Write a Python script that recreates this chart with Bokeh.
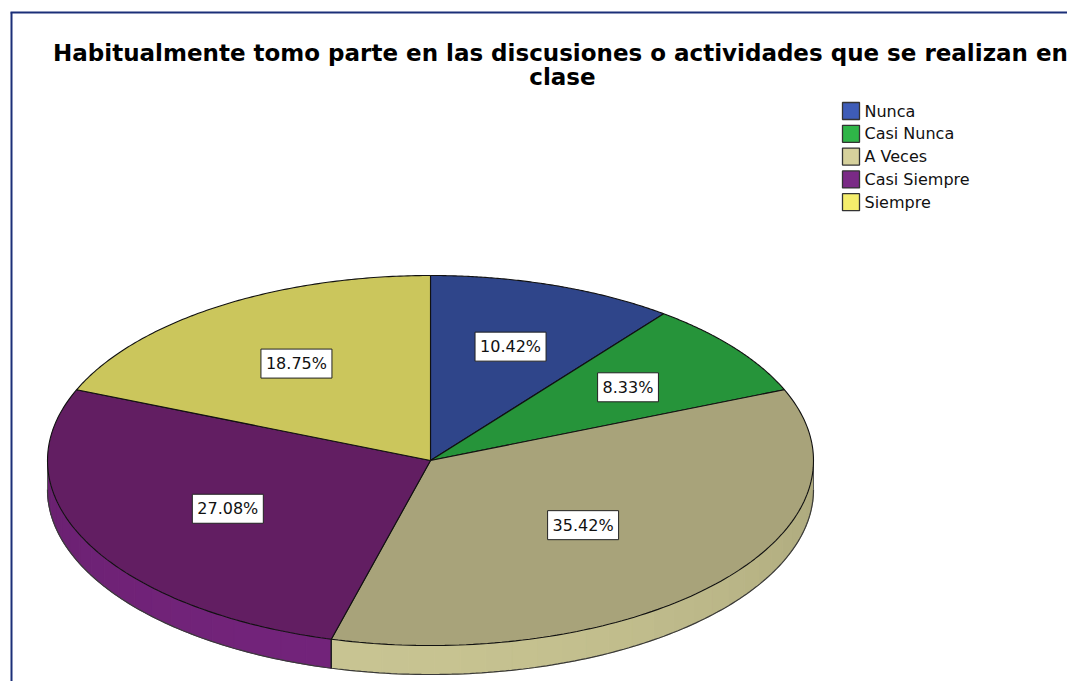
import numpy as np
from bokeh.plotting import figure
from bokeh.models import Range1d, ColumnDataSource
from bokeh.core.properties import value
from bokeh.embed import file_html
from bokeh.resources import INLINE

# ---------------- data ----------------
title_lines = ["Habitualmente tomo parte en las discusiones o actividades que se realizan en", "clase"]
categories = ["Nunca", "Casi Nunca", "A Veces", "Casi Siempre", "Siempre"]
percent = [10.42, 8.33, 35.42, 27.08, 18.75]

# ---------------- styles ----------------
top_colors = ["#2f458a", "#26943a", "#a8a37a", "#621e62", "#cbc65c"]
legend_colors = ["#3e5cb8", "#2fb548", "#d6d19c", "#7a2a86", "#f5ee6c"]
side_light = ["#3e58a8", "#2fb04a", "#c8c492", "#72237a", "#e0db70"]
side_dark = ["#26386e", "#1e7a30", "#9c9870", "#561a58", "#a8a44a"]
label_r = [0.65, 0.65, 0.53, 0.59, 0.63]

FONT = "DejaVu Sans"
W, H = 1067, 681
cx, cy, rx, ry, depth = 430.0, 460.0, 383.0, 185.0, 29.0

p = figure(width=W, height=H, output_backend="svg", toolbar_location=None,
           x_range=Range1d(0, W), y_range=Range1d(H, 0),
           x_axis_type=None, y_axis_type=None,
           min_border=0, min_border_left=0, min_border_right=0,
           min_border_top=0, min_border_bottom=0)
p.outline_line_color = None
p.grid.visible = False
p.background_fill_color = "white"
p.border_fill_color = "white"

def ex(t):
    return cx + rx * np.sin(t)

def ey(t):
    return cy - ry * np.cos(t)

def hex2rgb(h):
    h = h.lstrip("#")
    return np.array([int(h[i:i + 2], 16) for i in (0, 2, 4)], dtype=float)

def rgb2hex(c):
    c = np.clip(np.round(c), 0, 255).astype(int)
    return "#%02x%02x%02x" % tuple(c)

fr = np.array(percent) / sum(percent)
ends = np.cumsum(fr) * 2 * np.pi
starts = ends - fr * 2 * np.pi

# ---------- side (front) strips ----------
sx, sy, sc = [], [], []
edge_lines_x, edge_lines_y = [], []
front0, front1 = np.pi / 2, 3 * np.pi / 2
step = np.radians(4)
for i in range(len(categories)):
    a0 = max(starts[i], front0)
    a1 = min(ends[i], front1)
    if a1 <= a0:
        continue
    n = max(1, int(np.ceil((a1 - a0) / step)))
    edges = np.linspace(a0, a1, n + 1)
    lc, dc = hex2rgb(side_light[i]), hex2rgb(side_dark[i])
    for k in range(n):
        t = np.linspace(edges[k], edges[k + 1], 6)
        xs = list(ex(t)) + list(ex(t[::-1]))
        ys = list(ey(t)) + list(ey(t[::-1]) + depth)
        sx.append(xs)
        sy.append(ys)
        tm = 0.5 * (edges[k] + edges[k + 1])
        f = (1 + np.cos(tm - np.radians(198))) / 2
        sc.append(rgb2hex(dc + (lc - dc) * f))
    for a in (a0, a1):
        if front0 < a < front1:
            edge_lines_x.append([ex(a), ex(a)])
            edge_lines_y.append([ey(a), ey(a) + depth])

p.patches(xs=sx, ys=sy, fill_color=sc, line_color=sc, line_width=1)
tb = np.linspace(front0, front1, 200)
p.line(x=ex(tb), y=ey(tb) + depth, line_color="#3a3a3a", line_width=1.2)
p.multi_line(xs=edge_lines_x, ys=edge_lines_y, line_color="#222222", line_width=1.2)
p.line(x=[ex(front0), ex(front0)], y=[ey(front0), ey(front0) + depth], line_color="#555555", line_width=1)
p.line(x=[ex(front1), ex(front1)], y=[ey(front1), ey(front1) + depth], line_color="#555555", line_width=1)

# ---------- top surfaces ----------
txs, tys = [], []
for i in range(len(categories)):
    t = np.linspace(starts[i], ends[i], 120)
    txs.append([cx] + list(ex(t)))
    tys.append([cy] + list(ey(t)))
p.patches(xs=txs, ys=tys, fill_color=top_colors, line_color="#111111", line_width=1.1)

# ---------- value labels ----------
mids = (starts + ends) / 2
lab = ColumnDataSource(dict(
    x=[cx + label_r[i] * rx * np.sin(mids[i]) for i in range(len(categories))],
    y=[cy - label_r[i] * ry * np.cos(mids[i]) for i in range(len(categories))],
    t=["%.2f%%" % v for v in percent]))
p.text(x="x", y="y", text="t", source=lab, text_font=value(FONT), text_font_size="16px",
       text_color="#111111", text_align="center", text_baseline="middle",
       background_fill_color="white", border_line_color="#222222", border_line_width=1,
       padding=5)

# ---------- title ----------
p.text(x=[560, 562], y=[52, 76], text=title_lines, text_font=value(FONT),
       text_font_size="23px", text_font_style="bold", text_color="black",
       text_align="center", text_baseline="middle")

# ---------- legend ----------
ly = [110.5 + 22.8 * i for i in range(len(categories))]
p.quad(left=[842] * len(categories), right=[859] * len(categories),
       top=[y - 8.5 for y in ly], bottom=[y + 8.5 for y in ly],
       fill_color=legend_colors, line_color="#333333", line_width=1.3)
p.text(x=[864] * len(categories), y=ly, text=categories, text_font=value(FONT),
       text_font_size="16px", text_color="#111111", text_align="left", text_baseline="middle")

# ---------- frame border ----------
p.line(x=[10, W], y=[12, 12], line_color="#1b2f78", line_width=2)
p.line(x=[11, 11], y=[12, H], line_color="#1b2f78", line_width=2)

open("out.html", "w").write(file_html(p, INLINE))
